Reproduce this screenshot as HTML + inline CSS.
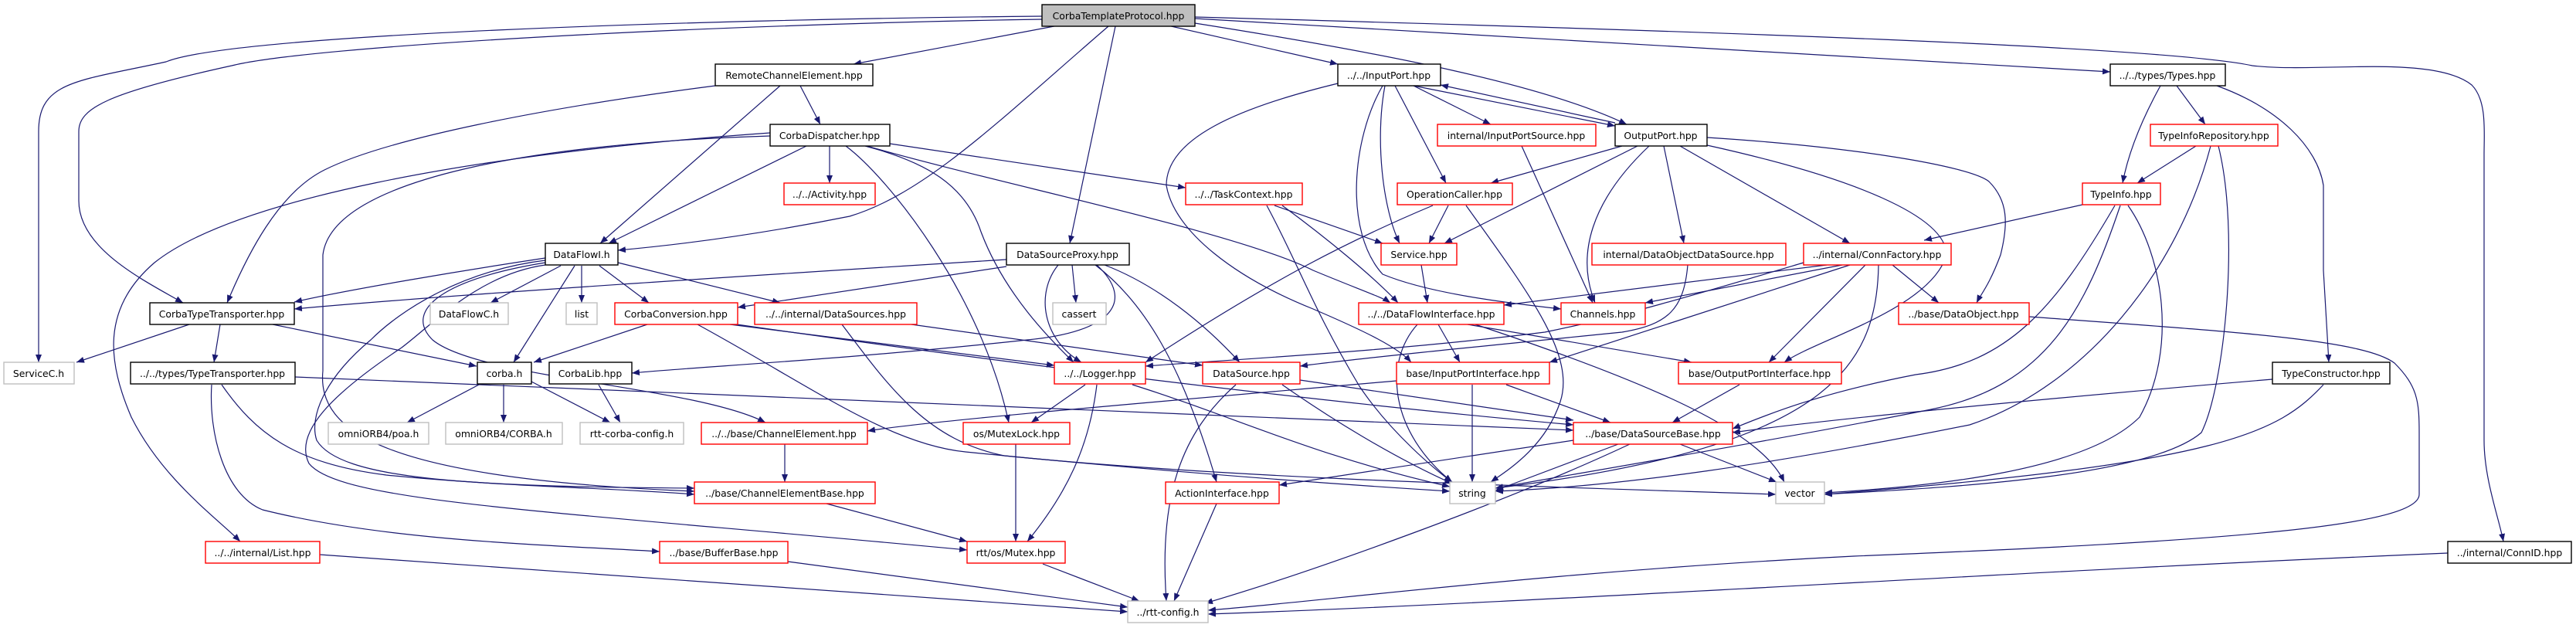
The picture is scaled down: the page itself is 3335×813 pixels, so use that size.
<!DOCTYPE html>
<html><head><meta charset="utf-8"><style>
html,body{margin:0;padding:0;background:#fff;}
svg{display:block}
text{font-family:"DejaVu Sans","Liberation Sans",sans-serif;font-size:12.4px;fill:#000;text-anchor:middle}
.e{fill:none;stroke:#191970;stroke-width:1.2;marker-end:url(#a)}
.b{fill:#fff;stroke:#000;stroke-width:1.4}
.r{fill:#fff;stroke:#ff0000;stroke-width:1.4}
.g{fill:#fff;stroke:#bfbfbf;stroke-width:1.4}
</style></head><body>
<svg width="3335" height="813" viewBox="0 0 3335 813" xmlns="http://www.w3.org/2000/svg">
<defs><marker id="a" markerUnits="userSpaceOnUse" markerWidth="11" markerHeight="8" refX="10" refY="4" orient="auto"><path d="M0,0 L10,4 L0,8 z" fill="#191970"/></marker></defs>
<g>
<path class="e" d="M1349,21 C900,25 300,45 215,80 C100,105 50,105 50,170 L50,469"/>
<path class="e" d="M1349,25 C900,32 400,60 300,85 C140,120 102,140 102,170 L102,260 C102,320 180,360 237,392"/>
<path class="e" d="M926,111 C700,140 500,180 420,220 C360,250 320,330 294,392"/>
<path class="e" d="M706,334 C600,350 450,375 381,391"/>
<path class="e" d="M1303,336 C1000,355 600,380 381,400"/>
<path class="e" d="M997,176 C700,185 430,230 418,330 L418,480 C410,560 500,620 899,636"/>
<path class="e" d="M997,172 C600,200 300,260 200,340 C130,400 140,470 170,540 C210,620 280,670 311,701"/>
<path class="e" d="M1370,33 L1105,83"/>
<path class="e" d="M1435,34 C1300,150 1200,250 1100,280 C1000,300 900,315 800,324"/>
<path class="e" d="M1444,34 L1385,315"/>
<path class="e" d="M1512,33 L1732,83"/>
<path class="e" d="M1547,30 C1800,70 2000,110 2106,161"/>
<path class="e" d="M1547,24 L2732,93"/>
<path class="e" d="M1547,22 C2200,40 2800,60 2916,85 C3000,95 3150,70 3200,110 C3220,130 3216,171 3216,200 L3216,570 C3216,620 3235,670 3241,701"/>
<path class="e" d="M1010,111 L777,315"/>
<path class="e" d="M1036,111 L1062,161"/>
<path class="e" d="M1074,189 L1074,237"/>
<path class="e" d="M1044,189 L788,315"/>
<path class="e" d="M1152,186 L1535,243"/>
<path class="e" d="M1095,189 C1150,230 1270,380 1306,547"/>
<path class="e" d="M1120,189 C1200,210 1250,240 1270,300 C1300,380 1360,440 1390,469"/>
<path class="e" d="M1122,189 C1300,240 1600,300 1700,350 C1760,375 1790,385 1800,392"/>
<path class="e" d="M726,344 L635,392"/>
<path class="e" d="M753,344 L753,392"/>
<path class="e" d="M744,344 L665,469"/>
<path class="e" d="M776,344 L840,392"/>
<path class="e" d="M800,340 L1010,392"/>
<path class="e" d="M706,340 C580,360 520,400 560,440 C620,490 900,500 991,547"/>
<path class="e" d="M706,337 C600,350 520,400 480,440 C420,490 400,540 410,570 C440,620 600,630 899,632"/>
<path class="e" d="M706,343 C620,355 560,420 520,450 C430,510 380,560 400,600 C440,650 700,660 1252,712"/>
<path class="e" d="M245,420 L99,469"/>
<path class="e" d="M285,420 L277,469"/>
<path class="e" d="M353,420 L617,474"/>
<path class="e" d="M382,488 L2037,557"/>
<path class="e" d="M287,498 C330,560 380,600 500,615 C650,630 800,632 899,640"/>
<path class="e" d="M274,498 C270,560 290,640 340,660 C500,700 700,705 854,714"/>
<path class="e" d="M620,498 L527,547"/>
<path class="e" d="M652,498 L652,547"/>
<path class="e" d="M688,494 L790,547"/>
<path class="e" d="M775,498 L803,547"/>
<path class="e" d="M838,420 L691,469"/>
<path class="e" d="M1420,343 C1470,390 1440,430 1330,440 C1100,465 900,475 818,483"/>
<path class="e" d="M945,420 L1365,473"/>
<path class="e" d="M940,418 C1300,470 1700,520 2037,550"/>
<path class="e" d="M903,420 C1050,500 1150,575 1250,585 C1500,610 1700,625 1877,636"/>
<path class="e" d="M1180,420 L1557,473"/>
<path class="e" d="M1090,420 C1150,500 1200,570 1300,590 C1600,620 2000,630 2299,640"/>
<path class="e" d="M1303,345 L955,398"/>
<path class="e" d="M1388,343 L1393,392"/>
<path class="e" d="M1370,343 C1340,380 1350,440 1400,469"/>
<path class="e" d="M1430,343 C1500,370 1560,420 1605,469"/>
<path class="e" d="M1418,343 C1480,390 1530,470 1575,624"/>
<path class="e" d="M1405,498 L1335,547"/>
<path class="e" d="M1420,498 C1410,580 1380,640 1330,701"/>
<path class="e" d="M1466,498 C1600,540 1700,590 1877,630"/>
<path class="e" d="M1683,492 L2037,544"/>
<path class="e" d="M1660,498 C1720,540 1800,590 1880,626"/>
<path class="e" d="M1600,498 C1530,560 1500,640 1510,778"/>
<path class="e" d="M1315,575 L1315,701"/>
<path class="e" d="M1016,575 L1016,624"/>
<path class="e" d="M1070,652 L1252,701"/>
<path class="e" d="M1575,652 L1520,778"/>
<path class="e" d="M1020,727 L1460,786"/>
<path class="e" d="M1350,730 L1475,778"/>
<path class="e" d="M414,718 L1460,792"/>
<path class="e" d="M2627,410 C2900,430 3060,440 3100,470 C3130,500 3132,520 3132,560 L3132,640 C3132,680 2900,700 2400,720 C2000,740 1700,780 1564,790"/>
<path class="e" d="M3169,716 C2600,740 2000,780 1564,795"/>
<path class="e" d="M1830,111 L2091,163"/>
<path class="e" d="M2091,159 L1865,110"/>
<path class="e" d="M1830,111 L1930,161"/>
<path class="e" d="M1806,111 L1872,237"/>
<path class="e" d="M1793,111 C1780,180 1790,270 1812,315"/>
<path class="e" d="M1790,111 C1750,180 1740,300 1790,355 C1850,380 1950,392 2021,400"/>
<path class="e" d="M1732,108 C1600,140 1510,180 1510,240 C1520,300 1600,360 1700,400 C1770,430 1810,450 1827,469"/>
<path class="e" d="M2100,189 L1930,237"/>
<path class="e" d="M2120,189 L1870,315"/>
<path class="e" d="M2135,189 C2060,260 2040,330 2065,392"/>
<path class="e" d="M2154,189 L2180,315"/>
<path class="e" d="M2175,189 L2395,315"/>
<path class="e" d="M2210,178 C2400,190 2550,215 2575,235 C2600,260 2600,290 2590,330 C2575,370 2565,380 2559,392"/>
<path class="e" d="M2210,188 C2400,230 2520,280 2520,330 C2500,400 2350,440 2310,469"/>
<path class="e" d="M1875,266 L1850,315"/>
<path class="e" d="M1898,266 C1980,380 2040,460 2020,520 C2000,580 1950,610 1930,624"/>
<path class="e" d="M1855,266 C1750,310 1650,360 1483,469"/>
<path class="e" d="M1840,343 L1848,392"/>
<path class="e" d="M1650,266 L1790,315"/>
<path class="e" d="M1660,266 C1720,310 1780,360 1810,392"/>
<path class="e" d="M1640,266 C1680,340 1700,400 1760,500 C1800,560 1860,610 1880,624"/>
<path class="e" d="M1970,189 L2062,392"/>
<path class="e" d="M2185,343 C2180,400 2160,420 2100,430 C1900,450 1750,465 1683,474"/>
<path class="e" d="M2365,343 L1947,395"/>
<path class="e" d="M2385,343 L2130,392"/>
<path class="e" d="M2395,343 L2006,469"/>
<path class="e" d="M2415,343 L2290,469"/>
<path class="e" d="M2450,343 L2510,392"/>
<path class="e" d="M2432,343 C2430,480 2360,580 1936,632"/>
<path class="e" d="M2335,340 C2200,380 2100,410 2000,430 C1800,455 1600,465 1483,474"/>
<path class="e" d="M1862,420 L1890,469"/>
<path class="e" d="M1835,420 C1790,470 1800,560 1880,624"/>
<path class="e" d="M1900,420 L2190,469"/>
<path class="e" d="M1910,420 C2150,500 2280,560 2310,624"/>
<path class="e" d="M1950,498 L2085,547"/>
<path class="e" d="M1906,498 L1906,624"/>
<path class="e" d="M1808,493 C1500,520 1200,545 1123,558"/>
<path class="e" d="M2252,498 L2165,547"/>
<path class="e" d="M2095,575 L1936,635"/>
<path class="e" d="M2175,575 L2300,624"/>
<path class="e" d="M2110,575 C1950,650 1700,740 1560,781"/>
<path class="e" d="M2037,570 L1656,628"/>
<path class="e" d="M2696,265 L2491,311"/>
<path class="e" d="M2738,266 C2660,400 2600,470 2480,485 C2350,510 2280,540 2243,555"/>
<path class="e" d="M2745,266 C2700,400 2650,500 2500,530 C2300,570 2000,620 1936,632"/>
<path class="e" d="M2755,266 C2800,330 2820,450 2770,540 C2700,610 2500,630 2362,638"/>
<path class="e" d="M2843,189 L2767,237"/>
<path class="e" d="M2862,189 C2820,350 2700,500 2550,550 C2300,600 2100,630 1936,636"/>
<path class="e" d="M2872,189 C2900,300 2880,500 2850,560 C2780,620 2500,632 2362,640"/>
<path class="e" d="M2797,111 C2770,160 2755,200 2748,237"/>
<path class="e" d="M2818,111 L2855,161"/>
<path class="e" d="M2870,111 C2950,140 3000,190 3008,240 L3008,350 3015,469"/>
<path class="e" d="M2942,491 C2600,520 2350,545 2243,560"/>
<path class="e" d="M3008,498 C2950,560 2880,600 2362,640"/>
</g>
<g>
<rect x="1349" y="6" width="198" height="28" fill="#bfbfbf" stroke="#000" stroke-width="1.4"/><text x="1448" y="25">CorbaTemplateProtocol.hpp</text>
<rect class="b" x="926" y="83" width="204" height="28"/><text x="1028" y="102">RemoteChannelElement.hpp</text>
<rect class="b" x="1732" y="83" width="133" height="28"/><text x="1798" y="102">../../InputPort.hpp</text>
<rect class="b" x="2732" y="83" width="149" height="28"/><text x="2806" y="102">../../types/Types.hpp</text>
<rect class="b" x="997" y="161" width="155" height="28"/><text x="1074" y="180">CorbaDispatcher.hpp</text>
<rect class="r" x="1861" y="161" width="205" height="28"/><text x="1963" y="180">internal/InputPortSource.hpp</text>
<rect class="b" x="2091" y="161" width="119" height="28"/><text x="2150" y="180">OutputPort.hpp</text>
<rect class="r" x="2784" y="161" width="165" height="28"/><text x="2866" y="180">TypeInfoRepository.hpp</text>
<rect class="r" x="1015" y="237" width="118" height="28"/><text x="1074" y="256">../../Activity.hpp</text>
<rect class="r" x="1535" y="237" width="151" height="28"/><text x="1610" y="256">../../TaskContext.hpp</text>
<rect class="r" x="1809" y="237" width="149" height="28"/><text x="1883" y="256">OperationCaller.hpp</text>
<rect class="r" x="2696" y="237" width="101" height="28"/><text x="2746" y="256">TypeInfo.hpp</text>
<rect class="b" x="706" y="315" width="94" height="28"/><text x="753" y="334">DataFlowI.h</text>
<rect class="b" x="1303" y="315" width="159" height="28"/><text x="1382" y="334">DataSourceProxy.hpp</text>
<rect class="r" x="1788" y="315" width="98" height="28"/><text x="1837" y="334">Service.hpp</text>
<rect class="r" x="2061" y="315" width="251" height="28"/><text x="2186" y="334">internal/DataObjectDataSource.hpp</text>
<rect class="r" x="2335" y="315" width="191" height="28"/><text x="2430" y="334">../internal/ConnFactory.hpp</text>
<rect class="b" x="194" y="392" width="187" height="28"/><text x="287" y="411">CorbaTypeTransporter.hpp</text>
<rect class="g" x="557" y="392" width="101" height="28"/><text x="607" y="411">DataFlowC.h</text>
<rect class="g" x="733" y="392" width="40" height="28"/><text x="753" y="411">list</text>
<rect class="r" x="796" y="392" width="159" height="28"/><text x="875" y="411">CorbaConversion.hpp</text>
<rect class="r" x="977" y="392" width="210" height="28"/><text x="1082" y="411">../../internal/DataSources.hpp</text>
<rect class="g" x="1363" y="392" width="69" height="28"/><text x="1397" y="411">cassert</text>
<rect class="r" x="1759" y="392" width="188" height="28"/><text x="1853" y="411">../../DataFlowInterface.hpp</text>
<rect class="r" x="2021" y="392" width="109" height="28"/><text x="2075" y="411">Channels.hpp</text>
<rect class="r" x="2458" y="392" width="169" height="28"/><text x="2542" y="411">../base/DataObject.hpp</text>
<rect class="g" x="5" y="469" width="91" height="28"/><text x="50" y="488">ServiceC.h</text>
<rect class="b" x="169" y="469" width="213" height="28"/><text x="275" y="488">../../types/TypeTransporter.hpp</text>
<rect class="b" x="618" y="469" width="70" height="28"/><text x="653" y="488">corba.h</text>
<rect class="b" x="711" y="469" width="107" height="28"/><text x="764" y="488">CorbaLib.hpp</text>
<rect class="r" x="1365" y="469" width="118" height="28"/><text x="1424" y="488">../../Logger.hpp</text>
<rect class="r" x="1557" y="469" width="126" height="28"/><text x="1620" y="488">DataSource.hpp</text>
<rect class="r" x="1808" y="469" width="198" height="28"/><text x="1907" y="488">base/InputPortInterface.hpp</text>
<rect class="r" x="2173" y="469" width="211" height="28"/><text x="2278" y="488">base/OutputPortInterface.hpp</text>
<rect class="b" x="2942" y="469" width="152" height="28"/><text x="3018" y="488">TypeConstructor.hpp</text>
<rect class="g" x="425" y="547" width="130" height="28"/><text x="490" y="566">omniORB4/poa.h</text>
<rect class="g" x="577" y="547" width="151" height="28"/><text x="652" y="566">omniORB4/CORBA.h</text>
<rect class="g" x="751" y="547" width="134" height="28"/><text x="818" y="566">rtt-corba-config.h</text>
<rect class="r" x="908" y="547" width="215" height="28"/><text x="1015" y="566">../../base/ChannelElement.hpp</text>
<rect class="r" x="1247" y="547" width="138" height="28"/><text x="1316" y="566">os/MutexLock.hpp</text>
<rect class="r" x="2037" y="547" width="206" height="28"/><text x="2140" y="566">../base/DataSourceBase.hpp</text>
<rect class="r" x="899" y="624" width="234" height="28"/><text x="1016" y="643">../base/ChannelElementBase.hpp</text>
<rect class="r" x="1509" y="624" width="147" height="28"/><text x="1582" y="643">ActionInterface.hpp</text>
<rect class="g" x="1877" y="624" width="59" height="28"/><text x="1906" y="643">string</text>
<rect class="g" x="2299" y="624" width="63" height="28"/><text x="2330" y="643">vector</text>
<rect class="r" x="266" y="701" width="148" height="28"/><text x="340" y="720">../../internal/List.hpp</text>
<rect class="r" x="854" y="701" width="166" height="28"/><text x="937" y="720">../base/BufferBase.hpp</text>
<rect class="r" x="1252" y="701" width="127" height="28"/><text x="1315" y="720">rtt/os/Mutex.hpp</text>
<rect class="b" x="3169" y="701" width="160" height="28"/><text x="3249" y="720">../internal/ConnID.hpp</text>
<rect class="g" x="1460" y="778" width="104" height="28"/><text x="1512" y="797">../rtt-config.h</text>
</g>
</svg>
</body></html>
